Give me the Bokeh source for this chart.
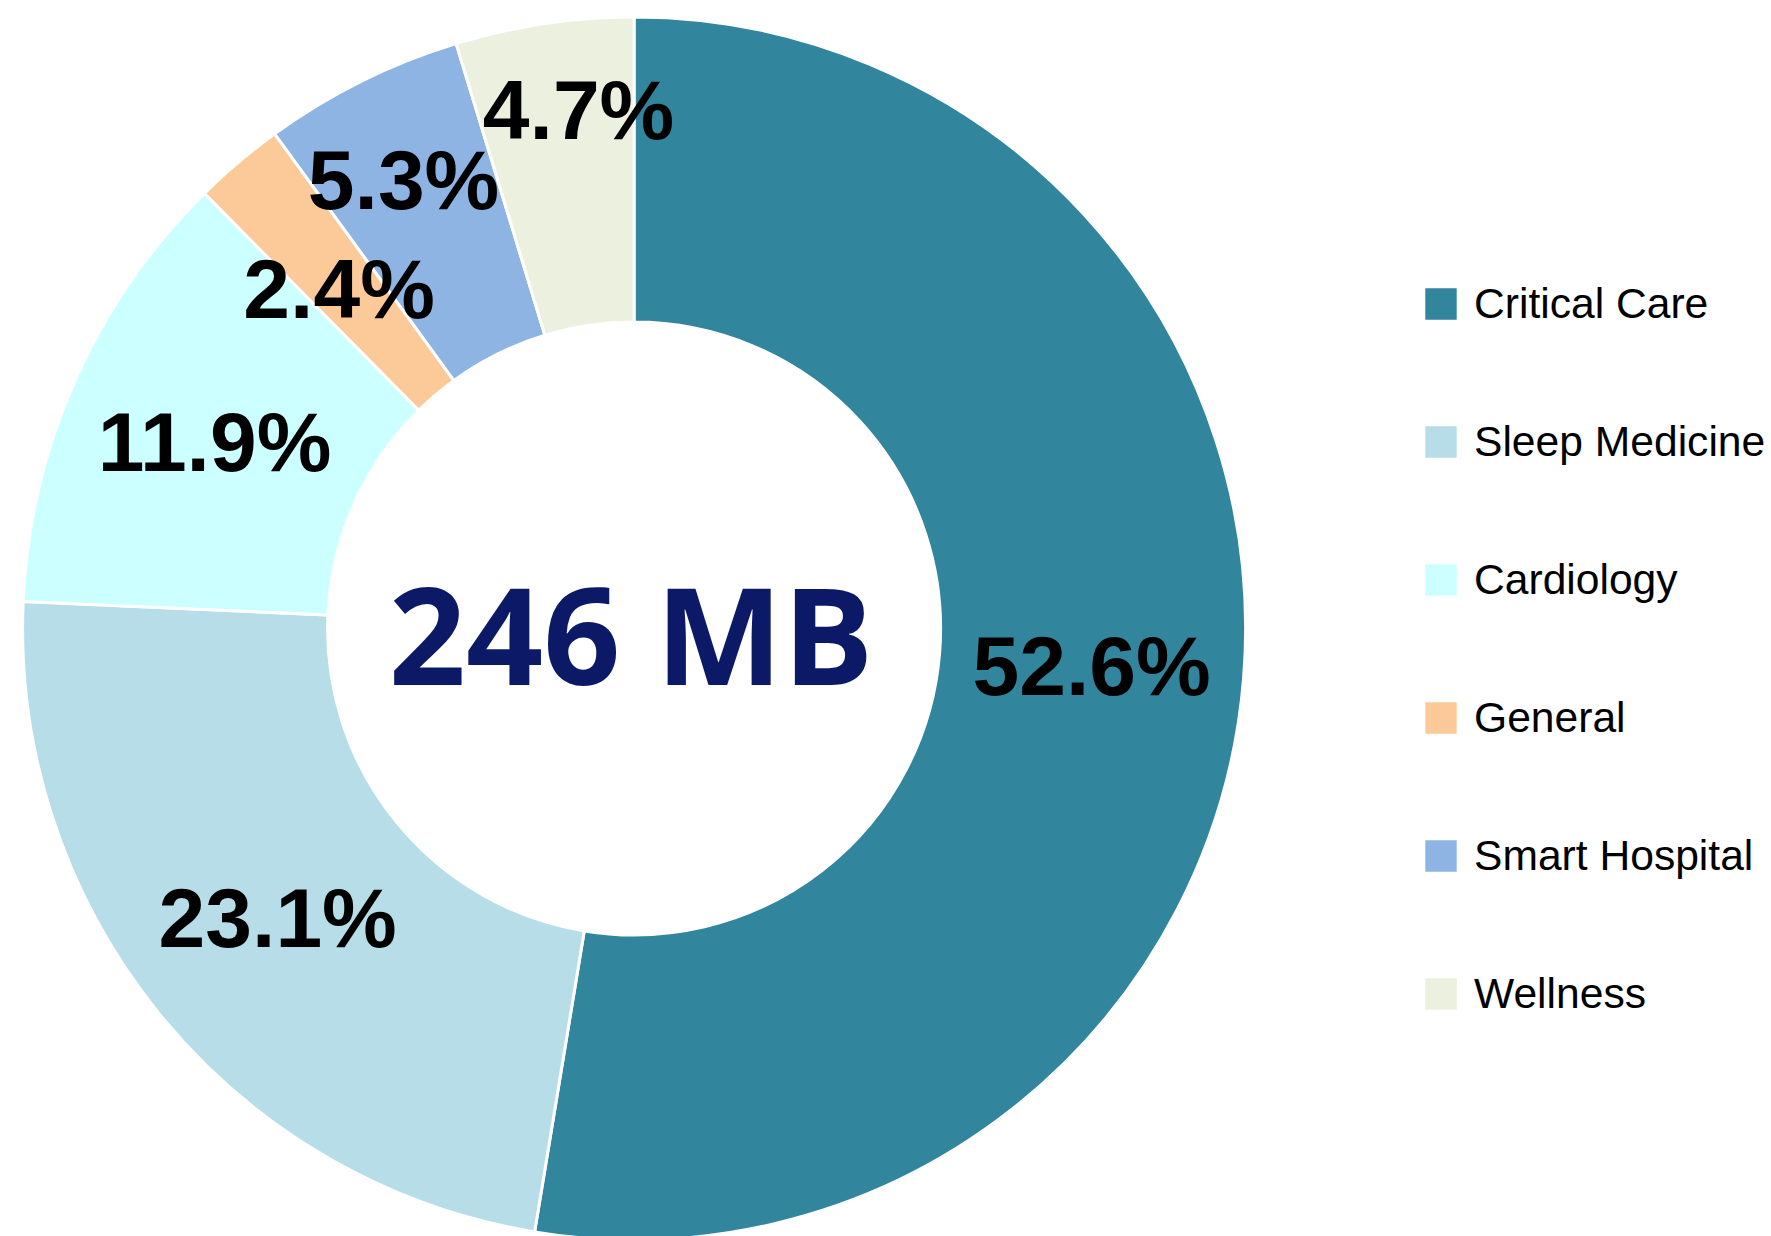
import math
from bokeh.plotting import figure
from bokeh.models import ColumnDataSource, Range1d, Legend, LegendItem
from bokeh.core.properties import value
from bokeh.embed import file_html
from bokeh.resources import INLINE

# ---- data ----
categories = ["Critical Care", "Sleep Medicine", "Cardiology", "General", "Smart Hospital", "Wellness"]
shares = [52.6, 23.1, 11.9, 2.4, 5.3, 4.7]
total_mb = 246

# ---- styles ----
colors = ["#31859C", "#B7DEE8", "#CCFFFF", "#FCCA99", "#8EB4E3", "#EBF1DE"]
label_nudge_x = [0, 0, 0, 2, -26, 12]
label_nudge_y = [0, 0, 0, 10, -38, -64]

W, H = 1771, 1236
cx, cy = 633.6, 628.0          # donut centre, px from the figure's top-left
R_OUT, R_IN = 611.5, 306.5

total = sum(shares)
starts, ends, mids = [], [], []
acc = 0.0
for s in shares:
    a0 = acc / total
    acc += s
    a1 = acc / total
    starts.append(math.pi / 2 - 2 * math.pi * a0)
    ends.append(math.pi / 2 - 2 * math.pi * a1)
    mids.append(math.pi / 2 - math.pi * (a0 + a1))
r_lab = (R_OUT + R_IN) / 2
lx = [r_lab * math.cos(m) for m in mids]
ly = [r_lab * math.sin(m) for m in mids]
labels = [f"{s:.1f}%" for s in shares]

src = ColumnDataSource(dict(cat=categories, share=shares, start=starts, end=ends,
                            color=colors, lx=lx, ly=ly, label=labels,
                            nx=label_nudge_x, ny=label_nudge_y))

p = figure(width=W, height=H, x_range=Range1d(-cx, W - cx), y_range=Range1d(cy - H, cy),
           output_backend="svg", toolbar_location=None, min_border=0,
           x_axis_location=None, y_axis_location=None)
p.grid.visible = False
p.outline_line_color = None
p.background_fill_color = "white"

r = p.annular_wedge(x=0, y=0, inner_radius=R_IN, outer_radius=R_OUT,
                    start_angle="start", end_angle="end", direction="clock",
                    fill_color="color", line_color="white", line_width=3, source=src)

p.text(x="lx", y="ly", text="label", source=src, x_offset="nx", y_offset="ny",
       text_font=value("Liberation Sans"), text_font_style="bold", text_font_size="84px",
       text_align="center", text_baseline="middle", text_color="black")

p.text(x=[0], y=[0], text=[f"{total_mb} MB"], x_offset=-3, y_offset=4,
       text_font=value("Open Sans"), text_font_style="bold", text_font_size="135px",
       text_align="center", text_baseline="middle", text_color="#0B1966")

items = [LegendItem(label=c, renderers=[r], index=i) for i, c in enumerate(categories)]
legend = Legend(items=items, location=(1419, 218), orientation="vertical",
                glyph_width=43, glyph_height=43, label_height=43, label_standoff=12,
                spacing=89, padding=0, margin=0, border_line_color=None,
                background_fill_alpha=0,
                label_text_font="Liberation Sans", label_text_font_size="42.6px",
                label_text_color="black")
p.add_layout(legend)

open("out.html", "w").write(file_html(p, INLINE))
